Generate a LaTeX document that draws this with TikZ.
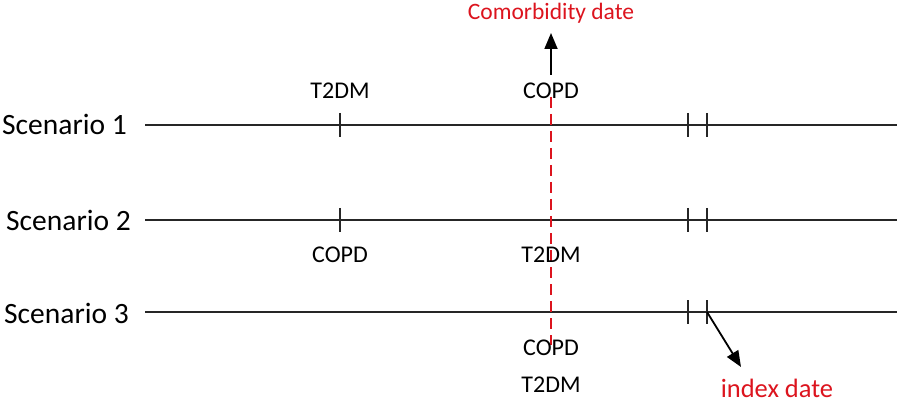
\documentclass[tikz,border=0pt]{standalone}
\usepackage{fontspec}
\setmainfont{Carlito}
\usetikzlibrary{arrows.meta}
\definecolor{myred}{RGB}{220,20,30}
\begin{document}
\begin{tikzpicture}[x=1pt,y=-1pt,
  tl/.style={line width=1.6pt,black!85},
  tick/.style={line width=1.6pt,black!85},
  lab/.style={font=\fontsize{24}{26}\selectfont,inner sep=0pt},
  scen/.style={font=\fontsize{29.5}{31}\selectfont,inner sep=0pt,anchor=west},
  redlab/.style={font=\fontsize{23.5}{26}\selectfont,inner sep=0pt,text=myred},
  arr/.style={line width=1.8pt,-{Triangle[length=16pt,width=13pt]}}]
\useasboundingbox (0,0) rectangle (901,403);
% scenario labels
\node[scen] (s1) at (2,124) {Scenario 1};
\node[scen] (s2) at (6,220) {Scenario 2};
\node[scen] (s3) at (4,313) {Scenario 3};
% timelines
\foreach \i/\y in {1/125,2/220,3/312}{
  \coordinate (a\i) at (145,\y);
  \coordinate (b\i) at (897,\y);
  \draw[tl] (a\i) -- (b\i);
  \draw[tick] (688,\y-12) -- (688,\y+12);
  \draw[tick] (707,\y-12) -- (707,\y+12);
}
\draw[tick] (340,113) -- (340,137);
\draw[tick] (340,208) -- (340,232);
% red dashed line
\draw[myred,line width=2pt,dash pattern=on 11pt off 6pt] (551,97) -- (551,345);
% labels
\node[lab] (t1) at (340,91) {T2DM};
\node[lab] (c1) at (551,91) {COPD};
\node[lab] (c2) at (340,255) {COPD};
\node[lab] (t2) at (551,255) {T2DM};
\node[lab] (c3) at (551,348) {COPD};
\node[lab] (t3) at (551,385) {T2DM};
\node[redlab] (cd) at (551,13) {Comorbidity date};
\node[redlab,font=\fontsize{26.5}{28}\selectfont] (id) at (777,388) {index date};
% arrows
\coordinate (up0) at (551,75);
\draw[arr] (up0) -- (551,33);
\coordinate (ix) at (707,312);
\draw[arr] (ix) -- (741,367);
\end{tikzpicture}
\end{document}
